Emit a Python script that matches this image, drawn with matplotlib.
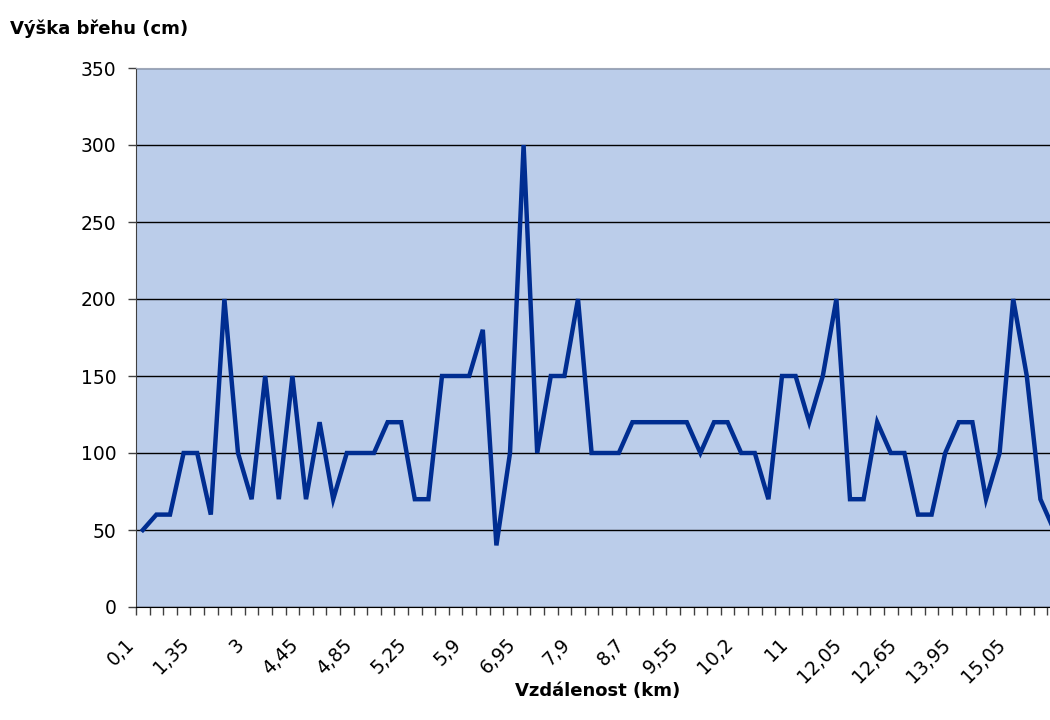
import matplotlib
matplotlib.use("Agg")
import matplotlib.pyplot as plt
from matplotlib.ticker import FixedLocator
from matplotlib.transforms import ScaledTranslation

plt.rcParams['font.family'] = ['DejaVu Sans']

# bank height (cm) for each measured point along the river
heights = [50, 60, 60, 100, 100, 60, 200, 100, 70, 150,
           70, 150, 70, 120, 70, 100, 100, 100, 120, 120,
           70, 70, 150, 150, 150, 180, 40, 100, 300, 100,
           150, 150, 200, 100, 100, 100, 120, 120, 120, 120,
           120, 100, 120, 120, 100, 100, 70, 150, 150, 120,
           150, 200, 70, 70, 120, 100, 100, 60, 60, 100,
           120, 120, 70, 100, 200, 150, 70, 50]
# distance labels shown on the x axis (every 4th point)
tick_labels = ['0,1', '1,35', '3', '4,45', '4,85', '5,25', '5,9', '6,95', '7,9',
               '8,7', '9,55', '10,2', '11', '12,05', '12,65', '13,95', '15,05']
label_step = 4
y_ticks = [0, 50, 100, 150, 200, 250, 300, 350]

n = len(heights)
x = list(range(n))

fig = plt.figure(figsize=(10.5, 7.2), dpi=100)
# plot area runs a little past the right edge of the picture, like the original
ax = fig.add_axes([136 / 1050, 113 / 720, (n * 13.6) / 1050, 539 / 720])
ax.set_facecolor('#BBCDEA')

ax.plot(x, heights, color='#002D91', linewidth=3.2, solid_joinstyle='miter', zorder=3)

ax.set_xlim(-0.5, n - 0.5)
ax.set_ylim(0, 350)
ax.set_yticks(y_ticks)
ax.yaxis.grid(True, color='black', linewidth=1)
ax.set_axisbelow(True)

ax.set_xticks(x[::label_step])
ax.set_xticklabels(tick_labels, rotation=45, ha='right', va='center', rotation_mode='anchor')
ax.xaxis.set_minor_locator(FixedLocator([i - 0.5 for i in range(n + 1)]))
ax.tick_params(axis='x', which='major', length=0, pad=25, labelsize=13.5)
ax.tick_params(axis='x', which='minor', length=6, width=1, color='#404040', direction='out')
ax.tick_params(axis='y', length=6, width=1, color='#404040', labelsize=13.5, pad=8)

# nudge the slanted labels left so they end just before their point
shift = ScaledTranslation(-11 / 100, 0, fig.dpi_scale_trans)
for tick in ax.xaxis.get_major_ticks():
    tick.label1.set_transform(tick.label1.get_transform() + shift)

ax.spines['left'].set_color('#404040')
ax.spines['bottom'].set_color('black')
ax.spines['top'].set_color('#A0A8B8')
ax.spines['right'].set_visible(False)

fig.text(10 / 1050, 1 - 29 / 720, 'Výška břehu (cm)', fontsize=13, fontweight='bold',
         va='center', ha='left')
fig.text(598 / 1050, 1 - 691 / 720, 'Vzdálenost (km)', fontsize=13, fontweight='bold',
         va='center', ha='center')

fig.savefig('out.png', dpi=100)
